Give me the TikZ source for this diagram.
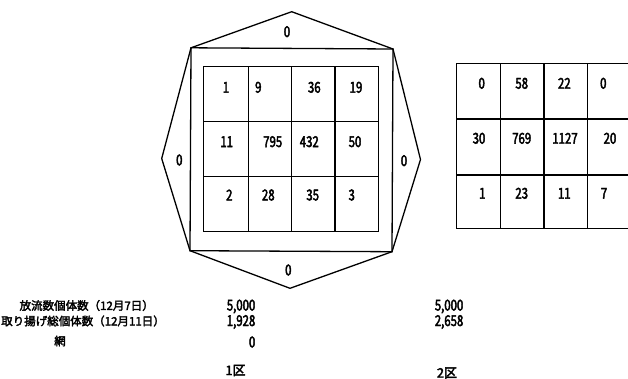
\documentclass[tikz,border=0pt]{standalone}
\usepackage{fontspec}
\setmainfont{Noto Sans CJK JP}[FakeBold=2.6]
\newfontfamily\numf{Noto Sans CJK JP}[FakeBold=2.8,FakeStretch=0.76]
\begin{document}
\begin{tikzpicture}[x=1pt,y=-1pt,
  ln/.style={line width=1.3pt,line join=miter},
  num/.style={font=\numf\fontsize{15}{15}\selectfont,inner sep=0pt},
  jp/.style={font=\fontsize{11.5}{12}\selectfont,inner sep=0pt}]
\useasboundingbox (0,0) rectangle (628,378);
\clip (0,0) rectangle (628,378);
% ---- section 1: octagon and grid
\coordinate (tp) at (291.7,11.7);
\coordinate (tl) at (191,47.8);
\coordinate (tr) at (393,49);
\coordinate (lp) at (161.7,158.5);
\coordinate (rp) at (420.5,159.5);
\coordinate (bl) at (190,250.7);
\coordinate (br) at (392,251.7);
\coordinate (bp) at (290,288.3);
\draw[ln] (tp) -- (tr) -- (rp) -- (br) -- (bp) -- (bl) -- (lp) -- (tl) -- cycle;
\draw[ln] (tl) -- (tr) -- (br) -- (bl) -- cycle;
\draw[ln] (203.3,66.7) rectangle (378.3,231.7);
\foreach \x in {248.3,291.7,335} \draw[line width=1.1pt] (\x,66.7) -- (\x,231.7);
\foreach \y in {121.7,176.7} \draw[line width=1.1pt] (203.3,\y) -- (378.3,\y);
\node[num] (o1) at (287,31.7) {0};
\node[num] (o2) at (179.3,160) {0};
\node[num] (o3) at (404,160.7) {0};
\node[num] (o4) at (288.3,270) {0};
\node[num] (a11) at (226,87.3) {1};
\node[num] (a12) at (258.3,87.3) {9};
\node[num] (a13) at (314.3,87.3) {36};
\node[num] (a14) at (356,87.3) {19};
\node[num] (a21) at (226.7,141.7) {11};
\node[num] (a22) at (272.7,141.7) {795};
\node[num] (a23) at (309.3,141.7) {432};
\node[num] (a24) at (355,141.7) {50};
\node[num] (a31) at (229.3,195) {2};
\node[num] (a32) at (268.3,195) {28};
\node[num] (a33) at (312.7,195) {35};
\node[num] (a34) at (351.7,195) {3};
% ---- section 2: grid
\draw[line width=1.5pt] (456.7,63.3) rectangle (631,228.3);
\foreach \x in {500.7,544,587.3} \draw[line width=1.5pt] (\x,63.3) -- (\x,228.3);
\foreach \y in {119,175} \draw[line width=1.5pt] (456.7,\y) -- (631,\y);
\node[num] (b11) at (481.7,83.3) {0};
\node[num] (b12) at (521.7,83.3) {58};
\node[num] (b13) at (564.3,83.3) {22};
\node[num] (b14) at (603.3,83.3) {0};
\node[num] (b21) at (479,138.3) {30};
\node[num] (b22) at (521.7,138.3) {769};
\node[num] (b23) at (565,138.3) {1127};
\node[num] (b24) at (610,138.3) {20};
\node[num] (b31) at (482.3,193.3) {1};
\node[num] (b32) at (521.7,193.3) {23};
\node[num] (b33) at (564.3,193.3) {11};
\node[num] (b34) at (604,193.3) {7};
% ---- bottom texts
\node[jp] (r1) at (86.7,305.5) {放流数個体数（12月7日）};
\node[jp] (r2) at (83,321) {取り揚げ総個体数（12月11日）};
\node[jp] (r3) at (60,341) {網};
\node[num,anchor=east] (v11) at (255.5,306.5) {5,000};
\node[num,anchor=east] (v12) at (255.5,322) {1,928};
\node[num,anchor=east] (v13) at (255.5,342) {0};
\node[jp,font=\fontsize{13}{13}\selectfont] (s1) at (235.5,370.5) {1区};
\node[num,anchor=east] (v21) at (463.5,306.5) {5,000};
\node[num,anchor=east] (v22) at (463.5,322) {2,658};
\node[jp,font=\fontsize{13}{13}\selectfont] (s2) at (447,373) {2区};
\end{tikzpicture}
\end{document}
